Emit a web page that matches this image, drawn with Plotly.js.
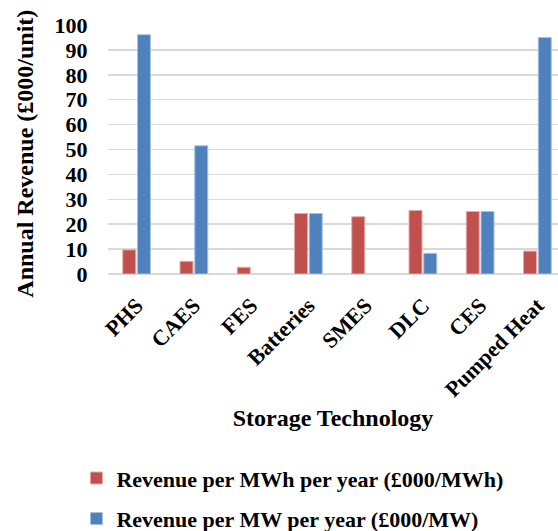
<!DOCTYPE html>
<html>
<head>
<meta charset="utf-8">
<script src="https://cdn.plot.ly/plotly-3.0.1.min.js"></script>
<style>html,body{margin:0;padding:0;background:#fff;}#chart{width:558px;height:531px;}</style>
</head>
<body>
<div id="chart"></div>
<script>
const categories = ["PHS", "CAES", "FES", "Batteries", "SMES", "DLC", "CES", "Pumped Heat"];
const revenuePerMWh = [9.7, 5.1, 2.7, 24.3, 23.0, 25.5, 25.1, 9.2];
const revenuePerMW = [96.1, 51.5, null, 24.3, null, 8.3, 25.1, 95.0];
const seriesNames = ["Revenue per MWh per year (£000/MWh)", "Revenue per MW per year (£000/MW)"];
const yTicks = [0, 10, 20, 30, 40, 50, 60, 70, 80, 90, 100];
const xTitle = "Storage Technology";
const yTitle = "Annual Revenue (£000/unit)";

const FONT = "'Liberation Serif', 'Times New Roman', serif";

const traces = [
  {type: "bar", x: categories, y: revenuePerMWh, name: seriesNames[0], legendgroup: "a",
   marker: {color: "#C0504D", line: {color: "#E6A9A7", width: 1}}},
  {type: "bar", x: categories, y: revenuePerMW, name: seriesNames[1], legendgroup: "b",
   marker: {color: "#4F81BD", line: {color: "#A9C1E0", width: 1}}}
];

const layout = {
  width: 558, height: 531,
  margin: {l: 108, r: 0, t: 25, b: 257, autoexpand: false},
  paper_bgcolor: "#fff", plot_bgcolor: "#fff",
  font: {family: FONT, color: "#000", size: 22, weight: "bold"},
  barmode: "group", bargap: 0.485, bargroupgap: 0.12,
  showlegend: true,
  legend: {xref: "container", yref: "container", x: 0.137, y: 0.139, xanchor: "left", yanchor: "top",
           font: {family: FONT, size: 22, weight: "bold", color: "#000"},
           traceorder: "grouped", tracegroupgap: 9, itemwidth: 30},
  xaxis: {type: "category", range: [-0.5, 7.36], tickangle: -45, showgrid: false, automargin: false,
          showline: false, zeroline: false, ticks: "outside", ticklen: 9, tickcolor: "rgba(0,0,0,0)",
          tickfont: {family: FONT, size: 22, weight: "bold"},
          title: {text: xTitle, font: {family: FONT, size: 24, weight: "bold"}, standoff: 8}},
  yaxis: {range: [0, 100], tickvals: yTicks, showgrid: true, gridcolor: "#D9D9D9", gridwidth: 1.5, automargin: false,
          zeroline: true, zerolinecolor: "#D9D9D9", zerolinewidth: 1.5, showline: false,
          ticks: "outside", ticklen: 15, tickcolor: "rgba(0,0,0,0)",
          tickfont: {family: FONT, size: 22, weight: "bold"}},
  annotations: [
    {text: yTitle, xref: "paper", yref: "paper", x: -0.184, y: 0.484, xanchor: "center", yanchor: "middle",
     textangle: -90, showarrow: false, font: {family: FONT, size: 24, weight: "bold", color: "#000"}}
  ]
};

Plotly.newPlot("chart", traces, layout, {displayModeBar: false, staticPlot: true});
</script>
</body>
</html>
